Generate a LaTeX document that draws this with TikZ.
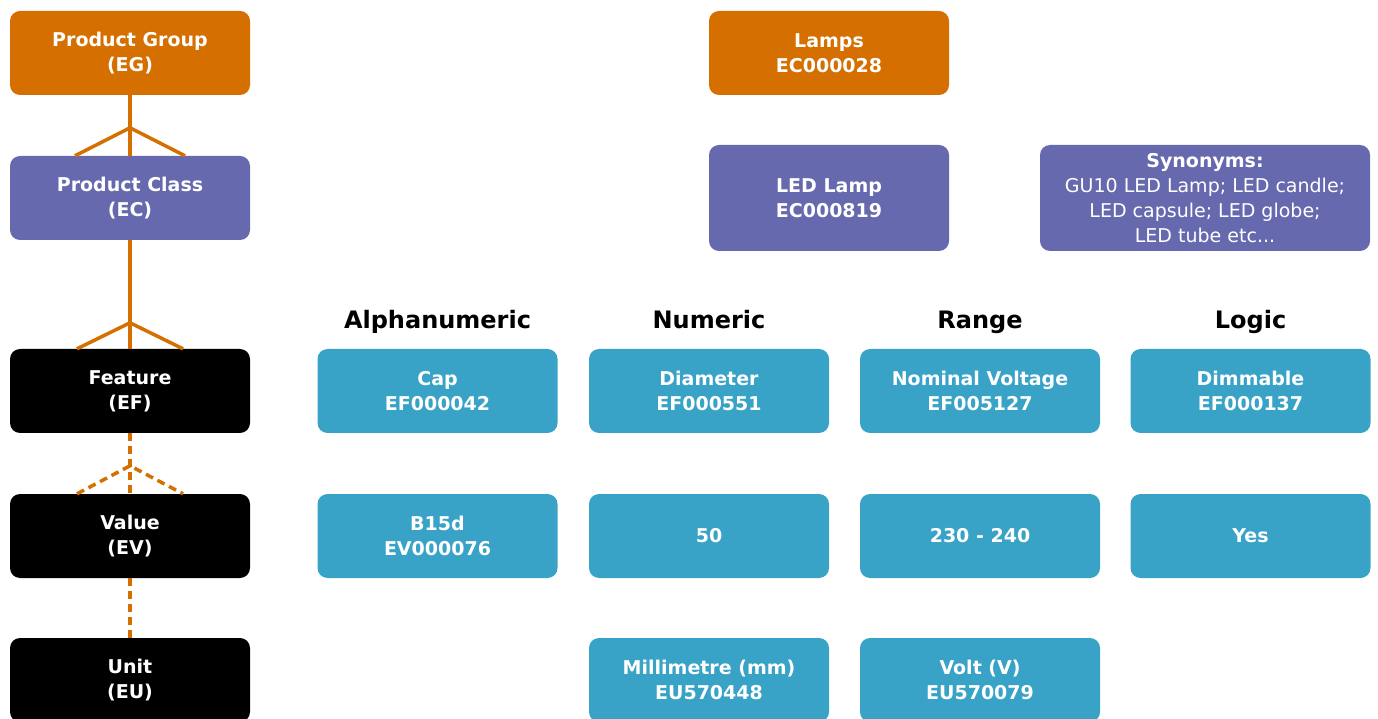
\documentclass[tikz,border=0pt]{standalone}
\usepackage{fontspec}
\setmainfont{DejaVu Sans}
\usetikzlibrary{calc}

\definecolor{grouporange}{HTML}{D46F00}
\definecolor{classpurple}{HTML}{6669AE}
\definecolor{featureteal}{HTML}{38A3C6}

\begin{document}
\begin{tikzpicture}[x=1pt,y=1pt,
        box/.style={rectangle, rounded corners=10pt, minimum width=240pt, minimum height=84pt,
            inner sep=0pt, align=center, text=white, font=\bfseries\fontsize{19}{25}\selectfont},
        groupbox/.style={box, fill=grouporange},
        classbox/.style={box, fill=classpurple},
        levelbox/.style={box, fill=black},
        itembox/.style={box, fill=featureteal},
        header/.style={anchor=base, font=\bfseries\fontsize{24}{28}\selectfont, text=black},
        link/.style={grouporange, line width=3.5pt},
        dashlink/.style={link, dash pattern=on 8pt off 5pt}]
        \useasboundingbox (0,0) rectangle (1378,718);

        % Levels of the classification
        \node[groupbox] (eg) at (130,665) {Product Group\\(EG)};
        \node[classbox] (ec) at (130,520) {Product Class\\(EC)};
        \node[levelbox] (ef) at (130,327) {Feature\\(EF)};
        \node[levelbox] (ev) at (130,182) {Value\\(EV)};
        \node[levelbox] (eu) at (130,38) {Unit\\(EU)};

        % Connectors between levels (crow's feet)
        \draw[link] (eg.south) -- (ec.north);
        \draw[link] ($(ec.north)+(-55,0)$) -- ($(ec.north)+(0,28)$) -- ($(ec.north)+(55,0)$);
        \draw[link] (ec.south) -- (ef.north);
        \draw[link] ($(ef.north)+(-53,0)$) -- ($(ef.north)+(0,26)$) -- ($(ef.north)+(53,0)$);
        \draw[dashlink] (ef.south) -- (ev.north);
        \draw[dashlink] ($(ev.north)+(-53,0)$) -- ($(ev.north)+(0,28)$) -- ($(ev.north)+(53,0)$);
        \draw[dashlink] (ev.south) -- (eu.north);

        % Group and class
        \node[groupbox] (lamps) at (829,665) {Lamps\\EC000028};
        \node[classbox, minimum height=106pt] (ledlamp) at (829,520) {LED Lamp\\EC000819};
        \node[classbox, minimum width=330pt, minimum height=106pt] (synonyms) at (1205,520)
            {Synonyms:\\\mdseries GU10 LED Lamp; LED candle;\\\mdseries LED capsule; LED globe;\\\mdseries LED tube etc...};

        % Feature types
        \node[header] (alpha) at (437.5,389) {Alphanumeric};
        \node[header] (numeric) at (709,389) {Numeric};
        \node[header] (range) at (980,389) {Range};
        \node[header] (logic) at (1250.5,389) {Logic};

        % Features
        \node[itembox] (cap) at (437.5,327) {Cap\\EF000042};
        \node[itembox] (diameter) at (709,327) {Diameter\\EF000551};
        \node[itembox] (voltage) at (980,327) {Nominal Voltage\\EF005127};
        \node[itembox] (dimmable) at (1250.5,327) {Dimmable\\EF000137};

        % Values
        \node[itembox] (b15d) at (437.5,182) {B15d\\EV000076};
        \node[itembox] (fifty) at (709,182) {50};
        \node[itembox] (volts) at (980,182) {230 - 240};
        \node[itembox] (yes) at (1250.5,182) {Yes};

        % Units
        \node[itembox] (mm) at (709,38) {Millimetre (mm)\\EU570448};
        \node[itembox] (volt) at (980,38) {Volt (V)\\EU570079};
\end{tikzpicture}
\end{document}
